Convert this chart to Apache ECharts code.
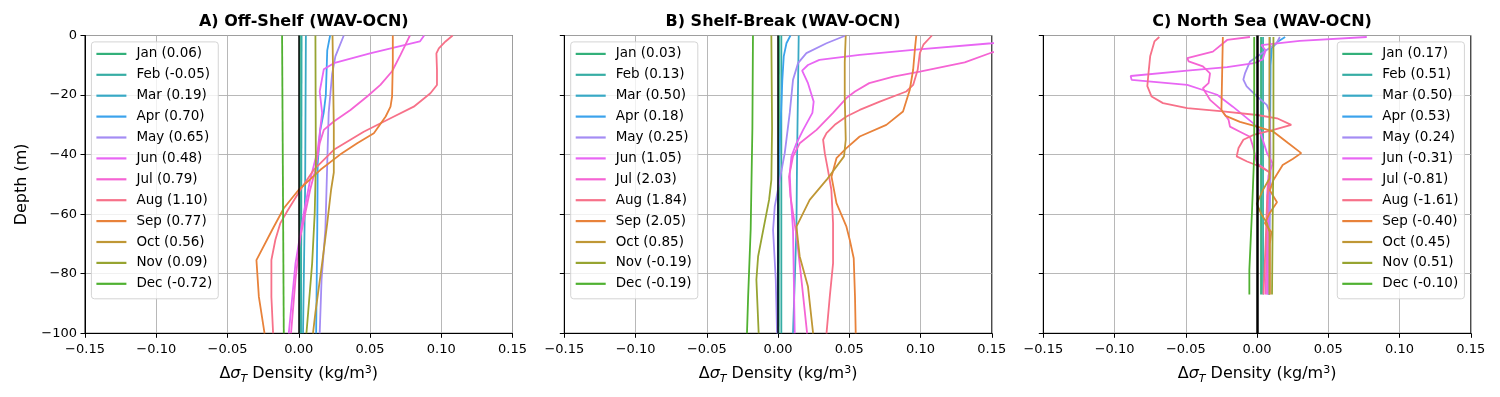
<!DOCTYPE html>
<html>
<head>
<meta charset="utf-8">
<script src="https://cdn.jsdelivr.net/npm/echarts@6/dist/echarts.min.js"></script>
<style>
  html, body { margin: 0; padding: 0; background: #fff; }
  #chart { width: 1500px; height: 397px; }
</style>
</head>
<body>
<div id="chart"></div>
<script>
// month names + the anomaly numbers shown in each legend
const months = ['Jan', 'Feb', 'Mar', 'Apr', 'May', 'Jun', 'Jul', 'Aug', 'Sep', 'Oct', 'Nov', 'Dec'];
const anomA = ['0.06', '-0.05', '0.19', '0.70', '0.65', '0.48', '0.79', '1.10', '0.77', '0.56', '0.09', '-0.72'];
const anomB = ['0.03', '0.13', '0.50', '0.18', '0.25', '1.05', '2.03', '1.84', '2.05', '0.85', '-0.19', '-0.19'];
const anomC = ['0.17', '0.51', '0.50', '0.53', '0.24', '-0.31', '-0.81', '-1.61', '-0.40', '0.45', '0.51', '-0.10'];
const titles = ['A) Off-Shelf (WAV-OCN)', 'B) Shelf-Break (WAV-OCN)', 'C) North Sea (WAV-OCN)'];
const colors = ['#33b07a', '#36ada4', '#38a9c5', '#3ba3ec', '#a48cf4', '#e866f4',
                '#f564d4', '#f77189', '#e8823a', '#bf9735', '#97a431', '#50b131'];
const xTicks = [-0.15, 0.15, 0.05];
const yTicks = [-100, 0, 20];

// profiles: [delta sigma_T, depth] per month
const offShelf = [
  [[0.0008, 0], [0.0008, -100]],
  [[0.002, 0], [0.0016, -100]],
  [[0.005, 0], [0.0045, -50], [0.003, -100]],
  [[0.022, 0], [0.020, -5], [0.019, -20], [0.0175, -26], [0.015, -32], [0.0133, -43], [0.013, -65], [0.0122, -100]],
  [[0.0316, 0], [0.0257, -7], [0.0234, -13], [0.021, -26], [0.020, -43], [0.0187, -65], [0.016, -82], [0.0147, -100]],
  [[0.088, 0], [0.085, -2], [0.05, -6], [0.0246, -9.3], [0.0176, -11.3], [0.0147, -18.8], [0.0164, -26], [0.015, -31.7],
   [0.0133, -38.4], [0.008, -48.5], [0.0035, -59.7], [-0.0023, -76.5], [-0.007, -100]],
  [[0.078, 0], [0.075, -3], [0.0714, -6.5], [0.0655, -12], [0.0573, -16.6], [0.048, -20.5], [0.0363, -25], [0.0246, -28.9],
   [0.0176, -31.7], [0.0147, -36.2], [0.0117, -45], [0.008, -51.8], [0.0012, -67.5], [-0.0023, -82], [-0.0054, -100]],
  [[0.108, 0], [0.103, -2], [0.0983, -4.3], [0.0966, -6], [0.097, -11.5], [0.097, -16.6], [0.0924, -19.4], [0.0807, -23.9],
   [0.0644, -27.8], [0.0456, -32.3], [0.0246, -38.4], [0.0105, -45.1], [0.0012, -51.8], [-0.0082, -59.1], [-0.0129, -63],
   [-0.0164, -68.6], [-0.0192, -75.4], [-0.0192, -87.7], [-0.018, -100]],
  [[0.066, 0], [0.066, -9.3], [0.0655, -20.5], [0.0644, -23.9], [0.061, -27.2], [0.0527, -32.8], [0.041, -36.2], [0.029, -40],
   [0.0152, -45.1], [0, -51.8], [-0.0105, -58], [-0.0187, -65.3], [-0.0297, -75.4], [-0.028, -87.7], [-0.024, -100]],
  [[0.0237, 0], [0.0246, -31], [0.0246, -46], [0.0227, -51.8], [0.02, -63], [0.0164, -76.5], [0.0117, -93], [0.010, -100]],
  [[0.0117, 0], [0.012, -43], [0.0112, -59.7], [0.0094, -76.5], [0.0066, -93], [0.0054, -100]],
  [[-0.0117, 0], [-0.0105, -100]]
];

const shelfBreak = [
  [[0.0007, 0], [0.0005, -100]],
  [[0.0023, 0], [0.0023, -100]],
  [[0.0145, 0], [0.0133, -43], [0.0129, -65], [0.0105, -100]],
  [[0.0087, 0], [0.0059, -2.6], [0.004, -7], [0.003, -15], [0.0012, -37.3], [0, -54], [0, -100]],
  [[0.0475, 0], [0.034, -2.6], [0.0199, -5.9], [0.014, -9.3], [0.0105, -14.9], [0.0082, -26], [0.0047, -39.5], [0.0012, -48.5],
   [-0.0023, -57.4], [-0.0035, -65.3], [-0.0016, -82], [-0.0007, -100]],
  [[0.2, 0], [0.15, -2.6], [0.0948, -4.8], [0.0573, -6.5], [0.029, -8.2], [0.021, -9.9], [0.0169, -11.8], [0.021, -16],
   [0.025, -22.2], [0.0241, -26], [0.0176, -31.7], [0.0129, -36.2], [0.0094, -40.6], [0.0082, -46.2], [0.0089, -54],
   [0.0105, -65.3], [0.0117, -100]],
  [[0.2, 0], [0.15, -5.7], [0.131, -9], [0.0995, -12.1], [0.081, -13.8], [0.064, -16], [0.054, -18.8], [0.048, -21],
   [0.0386, -26], [0.027, -31.7], [0.0152, -36.2], [0.0105, -40.6], [0.0077, -47.4], [0.0087, -54], [0.0129, -67],
   [0.0164, -82], [0.0204, -100]],
  [[0.108, 0], [0.102, -3.1], [0.0995, -5.9], [0.098, -11.5], [0.0948, -16.6], [0.09, -18.8], [0.0714, -22.2], [0.0573, -25],
   [0.048, -27.2], [0.0398, -30], [0.034, -32.8], [0.0316, -35], [0.0328, -39.5], [0.035, -45.1], [0.0374, -51.8],
   [0.0386, -63], [0.0386, -76.5], [0.0363, -87.7], [0.034, -100]],
  [[0.097, 0], [0.096, -4.8], [0.0948, -11.5], [0.0924, -18.3], [0.0877, -25.5], [0.076, -30], [0.0573, -33.9], [0.048, -37.8],
   [0.041, -41.2], [0.0375, -47.4], [0.041, -56.3], [0.048, -64.2], [0.0503, -68.6], [0.0531, -74.8], [0.054, -87.7], [0.0545, -100]],
  [[0.0475, 0], [0.0468, -9], [0.0468, -20.5], [0.0475, -35], [0.0463, -40.6], [0.034, -48.5], [0.0222, -55.2], [0.0129, -64.2],
   [0.0152, -74.2], [0.021, -84.3], [0.0246, -100]],
  [[-0.0047, 0], [-0.0042, -31], [-0.0047, -48.5], [-0.0063, -55.2], [-0.014, -74.2], [-0.0152, -82], [-0.0136, -100]],
  [[-0.0176, 0], [-0.018, -31], [-0.0192, -65], [-0.021, -87.7], [-0.0218, -100]]
];

const northSea = [
  [[0.0028, -0.5], [0.0028, -87]],
  [[0.0042, -0.5], [0.0042, -87]],
  [[0.009, -0.5], [0.0085, -87]],
  [[0.0197, -0.5], [0.015, -1.9], [0.0103, -4.2], [0.0095, -10], [0.009, -45], [0.008, -70], [0.008, -87]],
  [[0.016, -0.5], [0.0138, -2.5], [-0.0049, -8.7], [-0.0084, -12.6], [-0.0096, -14.8], [-0.0073, -17.1], [-0.0002, -20.4],
   [0.0068, -23.3], [0.0091, -26], [0.0095, -45], [0.008, -87]],
  [[0.077, -0.5], [0.03, -1.8], [0.003, -3.2], [0.006, -5], [0.004, -8], [-0.002, -9.3], [-0.021, -10.6], [-0.049, -11.8],
   [-0.0887, -13.6], [-0.088, -14.9], [-0.049, -16.6], [-0.038, -18.3], [-0.028, -19.9], [-0.017, -23.9], [-0.0026, -29.5],
   [0.002, -32], [0.007, -39.5], [0.011, -43], [0.008, -47], [0.007, -54], [0.008, -65], [0.007, -87]],
  [[-0.005, -0.5], [-0.021, -1.5], [-0.031, -5.4], [-0.049, -7.6], [-0.048, -8.7], [-0.038, -10.4], [-0.033, -12.7],
   [-0.034, -16], [-0.038, -17.7], [-0.033, -21.6], [-0.025, -25], [-0.02, -28.3], [-0.019, -30.6], [-0.012, -32.3],
   [-0.005, -34], [-0.003, -37], [0, -43], [0.009, -46], [0.008, -52], [0.007, -65], [0.006, -87]],
  [[-0.0686, -0.5], [-0.072, -2], [-0.075, -7], [-0.0762, -12.7], [-0.077, -17], [-0.074, -20.5], [-0.066, -22.7],
   [-0.049, -24.4], [-0.024, -25.5], [0, -26.7], [0.014, -27.8], [0.024, -30], [0.0115, -31.7], [-0.0026, -33.4],
   [-0.0096, -35], [-0.013, -37.8], [-0.0143, -40.6], [-0.007, -42.3], [0.002, -44], [0.009, -46], [0.007, -56],
   [0.006, -70], [0.0045, -87]],
  [[-0.024, -0.5], [-0.025, -25], [-0.022, -27], [-0.012, -29], [0, -30.6], [0.0115, -32.3], [0.022, -36.2], [0.031, -39.5],
   [0.025, -41.5], [0.018, -43.5], [0.0115, -48.5], [0.009, -52], [0.014, -56], [0.009, -59.5], [0.0055, -63], [0.01, -66],
   [0.009, -70], [0.009, -87]],
  [[0.0087, -0.5], [0.0087, -48], [0.004, -52], [-0.0002, -56.5], [0.003, -60], [0.007, -63], [0.0087, -66], [0.0087, -87]],
  [[0.0115, -0.5], [0.0115, -40], [0.011, -60], [0.0105, -87]],
  [[-0.002, -0.5], [-0.002, -40], [-0.0036, -59.6], [-0.0054, -78.7], [-0.0054, -87]]
];

const chart = echarts.init(document.getElementById('chart'));
const FONT = 'DejaVu Sans';
const panels = [
  { left: 85, data: offShelf, anom: anomA, zeroWidth: 1.5 },
  { left: 564.3, data: shelfBreak, anom: anomB, zeroWidth: 1.5 },
  { left: 1043.3, data: northSea, anom: anomC, zeroWidth: 2.5 }
];
const W = 427.5, TOP = 35.5, H = 297.8;

function minus(s) { return String(s).replace(/-/g, '\u2212'); }

const grids = [], xAxes = [], yAxes = [], legends = [], series = [], titleArr = [];
panels.forEach(function (p, i) {
  grids.push({ left: p.left, top: TOP, width: W, height: H, show: true,
    borderColor: '#000', borderWidth: 1, backgroundColor: 'transparent' });
  titleArr.push({ text: titles[i], left: p.left + W / 2, top: 9, textAlign: 'center',
    textStyle: { fontFamily: FONT, fontWeight: 'bold', fontSize: 16, color: '#000' } });
  xAxes.push({
    gridIndex: i, type: 'value', min: xTicks[0], max: xTicks[1], interval: xTicks[2],
    name: '{a|\u0394}{s|\u03c3}{t|T}{a| Density (kg/m}{u|3}{a|)}',
    nameLocation: 'middle', nameGap: 31,
    nameTextStyle: { rich: {
      a: { fontFamily: FONT, fontSize: 16, color: '#000', lineHeight: 20 },
      s: { fontFamily: FONT, fontSize: 16, fontStyle: 'italic', color: '#000', lineHeight: 20 },
      t: { fontFamily: FONT, fontSize: 11, fontStyle: 'italic', color: '#000', lineHeight: 11, verticalAlign: 'bottom' },
      u: { fontFamily: FONT, fontSize: 11, color: '#000', lineHeight: 11, verticalAlign: 'top' }
    } },
    axisLine: { show: true, onZero: false, lineStyle: { color: '#000', width: 1 } },
    axisTick: { show: true, length: 4.5, lineStyle: { color: '#000', width: 1 } },
    axisLabel: { fontFamily: FONT, fontSize: 13, color: '#000', margin: 10,
      formatter: function (v) { if (Math.abs(v) < 1e-9) v = 0; return minus(v.toFixed(2)); } },
    splitLine: { show: true, lineStyle: { color: '#b0b0b0', width: 0.9 } }
  });
  yAxes.push({
    gridIndex: i, type: 'value', min: yTicks[0], max: yTicks[1], interval: yTicks[2],
    name: i === 0 ? 'Depth (m)' : '', nameLocation: 'middle', nameGap: 55, nameRotate: 90,
    nameTextStyle: { fontFamily: FONT, fontSize: 16, color: '#000' },
    axisLine: { show: true, onZero: false, lineStyle: { color: '#000', width: 1 } },
    axisTick: { show: true, length: 4.5, lineStyle: { color: '#000', width: 1 } },
    axisLabel: { show: i === 0, fontFamily: FONT, fontSize: 13, color: '#000', margin: 8,
      formatter: function (v) { return minus(v); } },
    splitLine: { show: true, lineStyle: { color: '#b0b0b0', width: 0.9 } }
  });
  const names = months.map(function (m, k) { return m + ' (' + p.anom[k] + ')'; });
  const leg = {
    orient: 'vertical', top: 41.9, data: names,
    icon: 'rect', itemWidth: 30, itemHeight: 2.2, itemGap: 6.9,
    padding: [5, 6, 8, 5],
    backgroundColor: 'rgba(255,255,255,0.8)', borderColor: '#d4d4d4', borderWidth: 1, borderRadius: 3,
    textStyle: { fontFamily: FONT, fontSize: 13.5, color: '#000', lineHeight: 14, padding: [0, 0, 0, 5] },
    selectedMode: false
  };
  if (i === 2) leg.right = 1500 - (p.left + W) + 6.4; else leg.left = p.left + 6.4;
  legends.push(leg);
  p.data.forEach(function (pts, k) {
    series.push({
      type: 'line', name: names[k], xAxisIndex: i, yAxisIndex: i, data: pts,
      symbol: 'none', showSymbol: false, clip: true, animation: false, z: 3,
      lineStyle: { color: colors[k], width: 1.8 }, itemStyle: { color: colors[k] }
    });
  });
  // vertical zero reference
  series.push({
    type: 'line', xAxisIndex: i, yAxisIndex: i, data: [], symbol: 'none', animation: false,
    markLine: { silent: true, symbol: ['none', 'none'], label: { show: false },
      lineStyle: { color: '#000', type: 'solid', width: p.zeroWidth }, data: [{ xAxis: 0 }] },
    z: i === 2 ? 4 : 2
  });
});

chart.setOption({
  animation: false,
  title: titleArr,
  grid: grids,
  xAxis: xAxes,
  yAxis: yAxes,
  legend: legends,
  series: series
});
</script>
</body>
</html>
